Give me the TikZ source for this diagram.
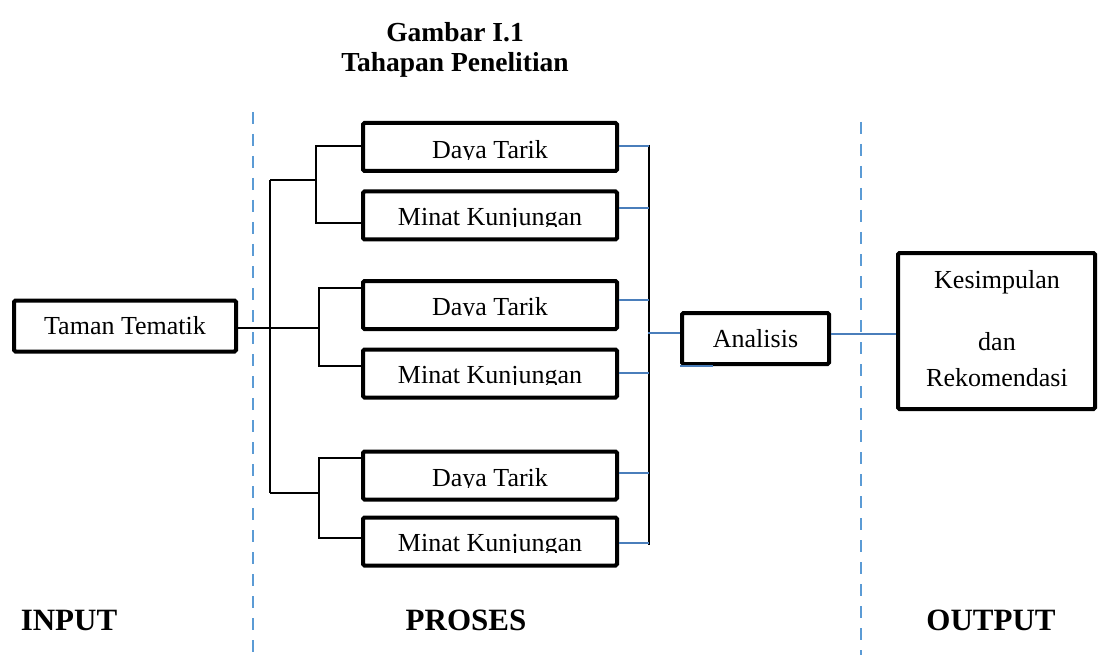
\documentclass[tikz,border=0pt]{standalone}
\usepackage{fontspec}
\setmainfont{Liberation Serif}
\definecolor{conblue}{HTML}{4A7EBB}
\definecolor{dashblue}{HTML}{5B9BD5}
\newcommand\bodyfs{\fontsize{26}{30}\selectfont}
\newcommand\titlefs{\fontsize{27.5}{32}\selectfont\bfseries}
\newcommand\partfs{\fontsize{31}{36}\selectfont\bfseries}
\newcommand\blval{14}
\begin{document}
\begin{tikzpicture}[x=1pt,y=-1pt,
  bl/.store in=\blval,
  box/.style={draw, line width=4pt, rounded corners=1.5pt, inner sep=0pt},
  item/.style={box, minimum width=254pt, minimum height=48pt,
    path picture={\clip ([yshift=\blval pt-0.6pt]path picture bounding box.south west) rectangle (path picture bounding box.north east);
      \node[anchor=base, font=\bodyfs, inner sep=0pt] at ([yshift=\blval pt]path picture bounding box.south) {#1};}},
  conn/.style={line width=2pt, black},
  bconn/.style={line width=2pt, conblue},
  divider/.style={line width=2pt, dashblue, dash pattern=on 12pt off 10pt},
  lbl/.style={anchor=base, inner sep=0pt},
]
\useasboundingbox (0,0) rectangle (1103,655);

% titles
\node[lbl, font=\titlefs] (t1) at (455,42) {Gambar I.1};
\node[lbl, font=\titlefs] (t2) at (455,72) {Tahapan Penelitian};

% dividers
\coordinate (d1a) at (253,112); \coordinate (d1b) at (253,655);
\coordinate (d2a) at (861,122); \coordinate (d2b) at (861,655);
\draw[divider] (d1a) -- (d1b);
\draw[divider] (d2a) -- (d2b);

% input
\node[box, minimum width=222pt, minimum height=51pt, font=\bodyfs] (taman) at (125,326) {Taman Tematik};

% process boxes
\node[item={Daya Tarik}, bl=12] (b1) at (490,147) {};
\node[item={Minat Kunjungan}, bl=14] (b2) at (490,215.5) {};
\node[item={Daya Tarik}, bl=14] (b3) at (490,305) {};
\node[item={Minat Kunjungan}, bl=14] (b4) at (490,373.5) {};
\node[item={Daya Tarik}, bl=13] (b5) at (490,475.5) {};
\node[item={Minat Kunjungan}, bl=14] (b6) at (490,541.5) {};

% analysis and output
\node[box, minimum width=147pt, minimum height=51pt, font=\bodyfs] (an) at (755.5,338.5) {Analisis};
\node[box, minimum width=197pt, minimum height=156pt] (kes) at (996.5,331) {};
\node[lbl, font=\bodyfs] (k1) at (997,288) {Kesimpulan};
\node[lbl, font=\bodyfs] (k2) at (997,350) {dan};
\node[lbl, font=\bodyfs] (k3) at (997,386) {Rekomendasi};

% part labels
\node[lbl, font=\partfs] (pin) at (69,630) {INPUT};
\node[lbl, font=\partfs] (ppr) at (466,630) {PROSES};
\node[lbl, font=\partfs] (pout) at (991,630) {OUTPUT};

% left tree
\coordinate (vtop) at (270,180);
\coordinate (vbot) at (270,493);
\coordinate (j2) at (319,328);
\draw[conn] (taman.east |- j2) -- (j2);
\draw[conn] (vtop) -- (vbot);
\draw[conn] (vtop) -- (316,180);
\draw[conn] (b1.west |- 0,146) -- (316,146) -- (316,223) -- (b2.west |- 0,223);
\draw[conn] (b3.west |- 0,288) -- (319,288) -- (319,366) -- (b4.west |- 0,366);
\draw[conn] (vbot) -- (319,493);
\draw[conn] (b5.west |- 0,458) -- (319,458) -- (319,538) -- (b6.west |- 0,538);

% right tree
\coordinate (rtop) at (649,145);
\coordinate (rbot) at (649,545);
\draw[conn] (rtop) -- (rbot);
\draw[bconn] (b1.east |- 0,146) -- (649,146);
\draw[bconn] (b2.east |- 0,208) -- (649,208);
\draw[bconn] (b3.east |- 0,300) -- (649,300);
\draw[bconn] (b4.east |- 0,373) -- (649,373);
\draw[bconn] (b5.east |- 0,473) -- (649,473);
\draw[bconn] (b6.east |- 0,543) -- (649,543);
\draw[bconn] (648,333) -- (an.west |- 0,333);
\draw[bconn] (an.east |- 0,334) -- (kes.west |- 0,334);
\draw[bconn] (680,366) -- (713,366);
\end{tikzpicture}
\end{document}
